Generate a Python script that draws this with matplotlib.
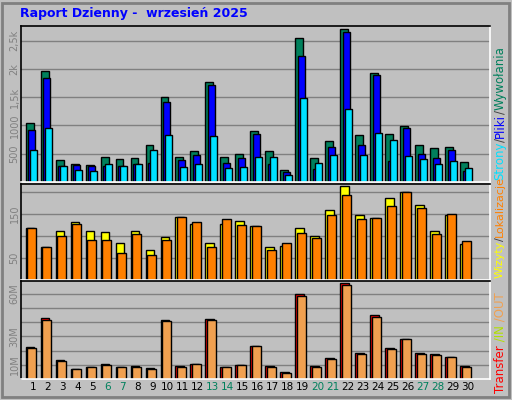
import matplotlib
matplotlib.use("Agg")
import matplotlib.pyplot as plt
import numpy as np

days = list(range(1, 31))
weekends = [6, 7, 13, 14, 20, 21, 27, 28]
hits = [1046,1964,393,321,303,446,411,428,660,1500,446,553,1768,446,500,911,553,214,2554,428,732,2714,839,1929,857,987,660,607,625,357]
files = [928,1839,280,296,286,280,280,321,330,1411,393,482,1714,345,428,857,321,179,2232,232,625,2661,660,1893,375,964,500,428,571,196]
pages = [571,964,286,214,196,321,286,321,571,839,268,321,821,250,268,446,446,125,1487,339,482,1286,482,875,750,464,411,321,375,250]
visits = [119,76,112,131,112,110,85,112,69,98,144,127,85,127,134,122,76,78,117,100,158,214,148,141,187,199,170,112,148,81]
sites = [117,76,100,127,90,90,61,105,56,90,144,131,76,139,124,122,69,83,107,95,148,194,139,141,168,199,163,105,151,88]
kbytes = [22.75,43,13.25,7,8.5,10.75,8.5,9.25,7.75,41.5,9.25,10.75,42.25,8.5,10,23.5,9.25,4.75,59.5,9.25,14.5,67.75,18.25,45.25,22,28,18.25,17.5,15.25,9.25]
kout = [22,41.5,12.5,7,8.5,10,8.5,8.5,7,40.75,8.5,10.75,41.5,8.5,10,23.5,8.5,4,58.75,8.5,13.75,66.25,17.5,43.75,21.25,28,17.5,16.75,15.25,8.5]
kin = [0.8,1.5,0.8,0.5,0.5,0.8,0.5,0.5,0.5,1.5,0.5,0.5,1.5,0.5,0.5,0.8,0.5,0.3,1.5,0.5,0.8,2.0,0.8,1.5,0.8,0.8,0.8,0.8,0.5,0.5]

BG = "#C0C0C0"
W, H = 512, 400
fig = plt.figure(figsize=(W/100, H/100), dpi=100, facecolor=BG)
d = np.array(days)

def ax_at(x0, y0, x1, y1):
    a = fig.add_axes([x0/W, 1-y1/H, (x1-x0)/W, (y1-y0)/H])
    a.set_facecolor(BG)
    a.set_xlim(0.4, 31.7)
    for s in ("top", "left"):
        a.spines[s].set_color("black")
    for s in ("bottom", "right"):
        a.spines[s].set_color("white")
    for s in a.spines.values():
        s.set_linewidth(1.2)
    a.set_xticks([])
    a.tick_params(axis="y", length=0, labelsize=7, labelcolor="#808080", pad=1)
    a.set_axisbelow(True)
    a.grid(axis="y", color="#808080", linewidth=1)
    return a

kw = dict(align="edge", edgecolor="black", linewidth=1.0)
a1 = ax_at(21, 26, 490, 182)
a1.set_ylim(0, 2760)
a1.set_yticks([500, 1000, 1500, 2000, 2500])
a1.set_yticklabels(["500", "1000", "1,5k", "2k", "2,5k"], rotation=90, va="center")
a1.bar(d-0.29, hits, 0.53, color="#00805c", **kw)
a1.bar(d-0.11, files, 0.47, color="#0000ff", **kw)
a1.bar(d+0.03, pages, 0.47, color="#00e0ff", **kw)

a2 = ax_at(21, 184, 490, 280)
a2.set_ylim(0, 218)
a2.set_yticks([50, 100, 150, 200])
a2.set_yticklabels(["50", "", "150", ""], rotation=90, va="center")
a2.bar(d-0.29, visits, 0.57, color="#ffff00", **kw)
a2.bar(d-0.2, sites, 0.63, color="#ff8000", **kw)

a3 = ax_at(21, 281, 490, 379)
a3.set_ylim(0, 69)
a3.set_yticks([10, 20, 30, 40, 50, 60])
a3.set_yticklabels(["10M", "", "30M", "", "", "60M"], rotation=90, va="center")
a3.bar(d-0.29, kbytes, 0.57, color="#ff0000", **kw)
a3.bar(d-0.2, kin, 0.12, color="#b0e000", **kw)
a3.bar(d-0.2, kout, 0.63, color="#f0a050", **kw)

for i in days:
    c = "#00805c" if i in weekends else "black"
    a3.text(i+0.2, -0.085, str(i), transform=a3.get_xaxis_transform(), ha="center", va="center", fontsize=7.5, color=c)

fig.text(20/W, 1-14/H, "Raport Dzienny -  wrzesień 2025", color="#0000ff", fontsize=9, fontweight="bold", va="center")
fig.patches.append(plt.Rectangle((0.004, 0.008), 0.99, 0.985, transform=fig.transFigure, fill=False, edgecolor="#808080", linewidth=2))

fig.canvas.draw()
r = fig.canvas.get_renderer()
def vlabel(parts, ybot, fs):
    y = ybot
    for s, c in parts:
        t = fig.text(500/W, 1-y/H, s, color=c, rotation=90, fontsize=fs, ha="center", va="bottom")
        bb = t.get_window_extent(r)
        y -= bb.height
vlabel([("Strony", "#00e0ff"), ("/", "#404040"), ("Pliki", "#0000ff"), ("/", "#404040"), ("Wywołania", "#00805c")], 180, 8.5)
vlabel([("Wizyty", "#ffff00"), ("/", "#404040"), ("Lokalizacje", "#ff8000")], 278, 8)
vlabel([("Transfer", "#ff0000"), (" /IN", "#b0e000"), (" /OUT", "#f0a050")], 393, 8.5)

fig.savefig("out.png", dpi=100, facecolor=BG)
